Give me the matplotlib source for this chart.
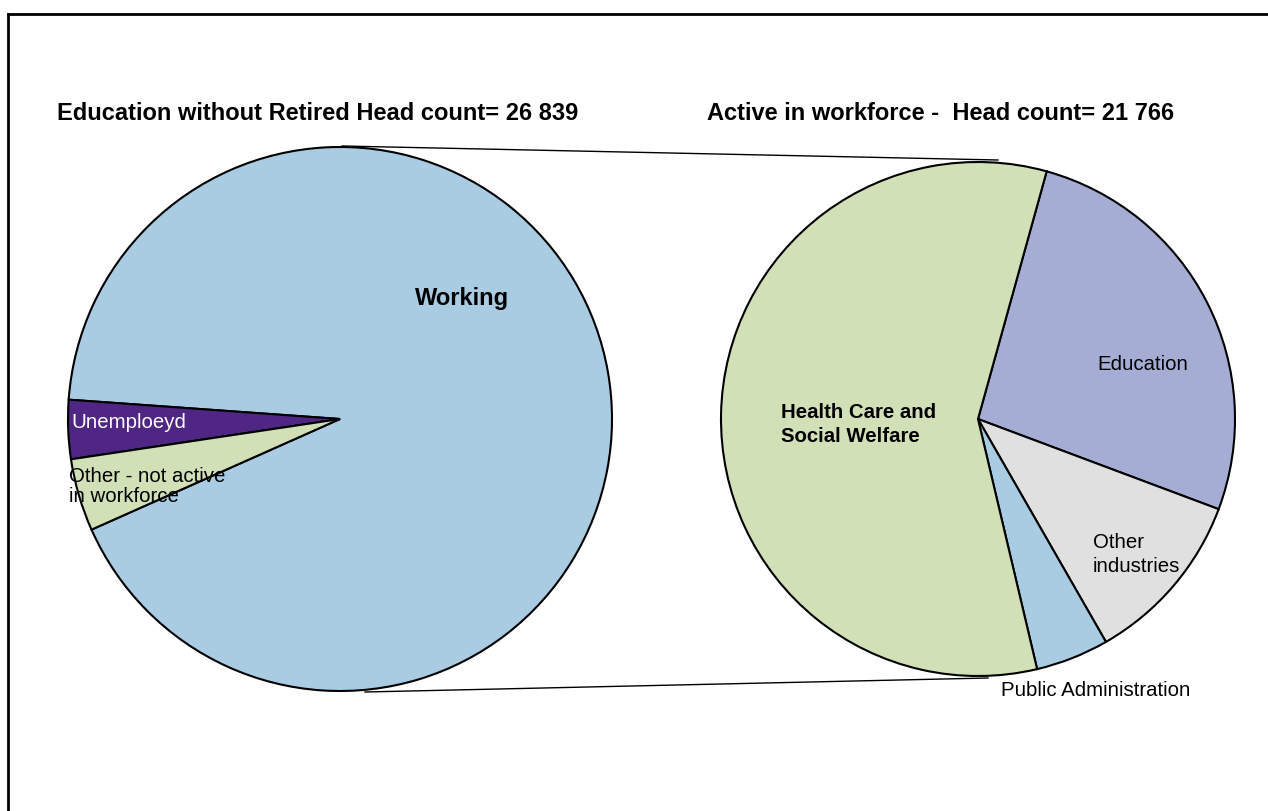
import matplotlib
matplotlib.use("Agg")
import matplotlib.pyplot as plt
from matplotlib.lines import Line2D

plt.rcParams['font.family'] = ['Liberation Sans', 'DejaVu Sans']

# ---- data ----
left_title = "Education without Retired Head count= 26 839"
right_title = "Active in workforce -  Head count= 21 766"

left_labels = ["Working", "Unemploeyd", "Other - not active\nin workforce"]
left_values = [92.2, 3.5, 4.3]
left_colors = ["#A9CCE3", "#4F2683", "#D2E0B8"]

right_labels = ["Education", "Other\nindustries", "Public Administration",
                "Health Care and\nSocial Welfare"]
right_values = [26.4, 11.0, 4.6, 58.0]
right_colors = ["#A6ADD5", "#E0E0E0", "#A9CCE3", "#D2E0B8"]

W, H = 1268, 811
fig = plt.figure(figsize=(W / 100, H / 100), dpi=100)
ax = fig.add_axes([0, 0, 1, 1])

def py(y):
    return H - y

# left pie
lc = (340, py(419))
lr = 272
ax.pie(left_values, colors=left_colors, startangle=204.0, counterclock=True,
       center=lc, radius=lr, wedgeprops=dict(edgecolor="black", linewidth=1.5))

# right pie
rc = (978, py(419))
rr = 257
ax.pie(right_values, colors=right_colors, startangle=74.5, counterclock=False,
       center=rc, radius=rr, wedgeprops=dict(edgecolor="black", linewidth=1.5))

ax.set_xlim(0, W)
ax.set_ylim(0, H)
ax.set_aspect("equal")
ax.axis("off")

# connector lines
ax.add_line(Line2D([342, 998], [py(146), py(160)], color="black", lw=1.0))
ax.add_line(Line2D([365, 988], [py(692), py(678)], color="black", lw=1.0))

# titles
ax.text(57, py(114), left_title, fontsize=17, fontweight="bold", ha="left", va="center")
ax.text(707, py(114), right_title, fontsize=17, fontweight="bold", ha="left", va="center")

# slice labels
fs = 14.7
ax.text(462, py(299), left_labels[0], fontsize=17, fontweight="bold", ha="center", va="center")
ax.text(71, py(423), left_labels[1], fontsize=fs, color="white", ha="left", va="center")
l2 = left_labels[2].split("\n")
ax.text(69, py(476), l2[0], fontsize=fs, ha="left", va="center")
ax.text(69, py(497), l2[1], fontsize=fs, ha="left", va="center")

ax.text(1143, py(364), right_labels[0], fontsize=fs, ha="center", va="center")
r1 = right_labels[1].split("\n")
ax.text(1093, py(542), r1[0], fontsize=fs, ha="left", va="center")
ax.text(1093, py(566), r1[1], fontsize=fs, ha="left", va="center")
ax.text(1001, py(691), right_labels[2], fontsize=fs, ha="left", va="center")
r3 = right_labels[3].split("\n")
ax.text(781, py(413), r3[0], fontsize=fs, fontweight="bold", ha="left", va="center")
ax.text(781, py(437), r3[1], fontsize=fs, fontweight="bold", ha="left", va="center")

# outer border (left and top visible)
ax.add_line(Line2D([8, 8], [0, py(14)], color="black", lw=2))
ax.add_line(Line2D([8, W], [py(14), py(14)], color="black", lw=2))

fig.savefig("out.png", dpi=100)
